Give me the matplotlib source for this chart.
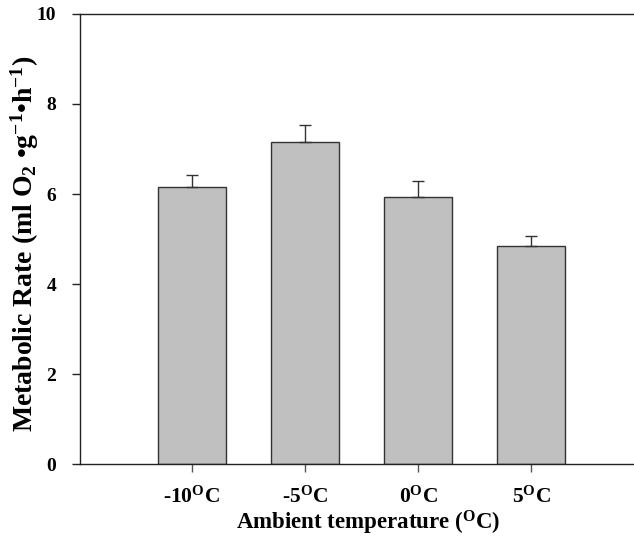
import matplotlib
matplotlib.use('Agg')
import matplotlib.pyplot as plt
import numpy as np

# data
temps = ['-10$^{\\mathrm{O}}$C', '-5$^{\\mathrm{O}}$C', '0$^{\\mathrm{O}}$C', '5$^{\\mathrm{O}}$C']
rate = [6.15, 7.15, 5.93, 4.84]
rate_se = [0.28, 0.39, 0.36, 0.23]
y_ticks = [0, 2, 4, 6, 8, 10]

plt.rcParams['font.family'] = ['Liberation Serif', 'DejaVu Serif']
plt.rcParams['font.weight'] = 'bold'
plt.rcParams['mathtext.fontset'] = 'custom'
plt.rcParams['mathtext.rm'] = 'Liberation Serif:bold'
plt.rcParams['mathtext.it'] = 'Liberation Serif:bold'
plt.rcParams['mathtext.bf'] = 'Liberation Serif:bold'

fig = plt.figure(figsize=(6.34, 5.4), dpi=100)
ax = fig.add_axes([0.126, 0.1407, 0.874, 0.8334])

x = np.arange(len(rate))
ax.bar(x, rate, width=0.6, color='#c0c0c0', edgecolor='#333333', linewidth=1.0, zorder=2)
ax.errorbar(x, rate, yerr=[np.zeros(len(rate)), rate_se], fmt='none',
            ecolor='#333333', elinewidth=1.0, capsize=4, capthick=1.0, zorder=3)

ax.set_xlim(-0.99, 3.91)
ax.set_ylim(0, 10)
ax.set_yticks(y_ticks)
ax.set_xticks(x)
ax.set_xticklabels(temps, fontsize=15.5, fontweight='bold')
ax.tick_params(axis='y', labelsize=14, length=6, width=1, pad=11, color='#222222')
ax.tick_params(axis='x', length=6, width=1, pad=10, color='#555555')
for lbl in ax.get_yticklabels():
    lbl.set_fontweight('bold')

ax.spines['right'].set_visible(False)
for s in ['left', 'top', 'bottom']:
    ax.spines[s].set_linewidth(1.0)
    ax.spines[s].set_color('#222222')

ax.set_xlabel('Ambient temperature ($^{\\mathrm{O}}$C)', fontsize=16.5, fontweight='bold')
ax.xaxis.set_label_coords(0.52, -0.10)
ax.set_ylabel('Metabolic Rate (ml O$_2$ •g$^{-1}$•h$^{-1}$)', fontsize=20, fontweight='bold')
ax.yaxis.set_label_coords(-0.07, 0.49)

fig.savefig('out.png', dpi=100)
